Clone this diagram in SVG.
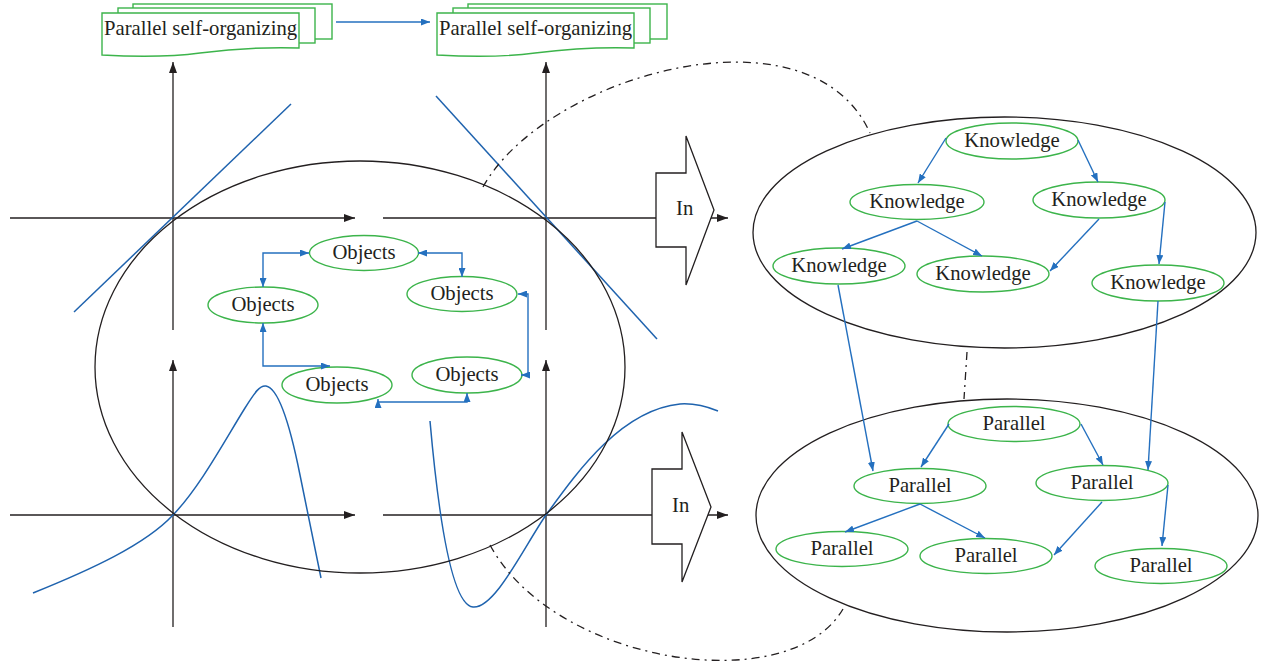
<svg xmlns="http://www.w3.org/2000/svg" width="1261" height="661" viewBox="0 0 1261 661">
<style>
.ax{stroke:#231f20;stroke-width:1.3;fill:none}
.bl{stroke:#1f63ae;stroke-width:1.5;fill:none}
.big{stroke:#231f20;stroke-width:1.3;fill:none}
.dd{stroke:#231f20;stroke-width:1.3;fill:none;stroke-dasharray:8 5 2 5}
.nd{stroke:#3cb44b;stroke-width:1.4;fill:#fff}
.doc{stroke:#3cb44b;stroke-width:1.4;fill:#fff}
.blk{stroke:#231f20;stroke-width:1.3;fill:#fff}
.cn{stroke:#2470bf;stroke-width:1.4;fill:none}
.t{font-family:"Liberation Serif","Times New Roman","DejaVu Serif",serif;font-size:20.7px;fill:#231f20}
.tm{text-anchor:middle}
</style>
<defs>
<marker id="ab" viewBox="0 0 9 7" refX="9" refY="3.5" markerWidth="9" markerHeight="7" markerUnits="userSpaceOnUse" orient="auto-start-reverse"><path d="M0,0 L9,3.5 L0,7 Z" fill="#2470bf"/></marker>
<marker id="ak" viewBox="0 0 11 8" refX="11" refY="4" markerWidth="11" markerHeight="8" markerUnits="userSpaceOnUse" orient="auto"><path d="M0,0 L11,4 L0,8 Z" fill="#231f20"/></marker>
</defs>
<rect width="1261" height="661" fill="#fff"/>

<g id="axes">
<line class="ax" x1="10" y1="218" x2="355" y2="218" marker-end="url(#ak)"/>
<line class="ax" x1="173" y1="330" x2="173" y2="62" marker-end="url(#ak)"/>
<line class="ax" x1="383" y1="218" x2="728" y2="218" marker-end="url(#ak)"/>
<line class="ax" x1="546" y1="330" x2="546" y2="62" marker-end="url(#ak)"/>
<line class="ax" x1="10" y1="515" x2="355" y2="515" marker-end="url(#ak)"/>
<line class="ax" x1="173" y1="627" x2="173" y2="360" marker-end="url(#ak)"/>
<line class="ax" x1="383" y1="515" x2="728" y2="515" marker-end="url(#ak)"/>
<line class="ax" x1="546" y1="627" x2="546" y2="360" marker-end="url(#ak)"/>
</g>

<g id="curves">
<line class="bl" x1="74" y1="312" x2="291" y2="104"/>
<line class="bl" x1="436" y1="96" x2="657" y2="339"/>
<path class="bl" d="M33,593 C90,570 145,545 173,515 C200,487 225,440 245,408 C255,392 260,385 266,386 C278,388 290,425 300,475 C308,515 315,550 321,578"/>
<path class="bl" d="M430,421 C437,500 450,605 473,607 C495,609 525,545 546,515 C575,475 620,410 680,404 C695,403 708,407 718,411"/>
</g>

<g id="big-ellipse">
<ellipse class="big" cx="360" cy="367" rx="265" ry="206"/>
</g>

<g id="dashdot">
<path class="dd" d="M483,187 C545,75 810,0 870,133"/>
<path class="dd" d="M490,545 C555,665 790,700 843,609"/>
<line class="dd" x1="967" y1="352" x2="964" y2="399"/>
</g>

<g id="in-top">
<polygon class="blk" points="656,173 686,173 686,136 714,210 686,285 686,247 656,247"/>
<text class="t" x="676" y="215">In</text>
</g>
<g id="in-bottom">
<polygon class="blk" points="652,469 682,469 682,432 711,507 682,582 682,544 652,544"/>
<text class="t" x="672" y="512">In</text>
</g>

<g id="doc-1">
<rect class="doc" x="133" y="4" width="199" height="35"/>
<rect class="doc" x="118" y="8" width="197" height="35"/>
<path class="doc" d="M102,55 C140,57 170,57 200,53 C240,48 270,47 299,48 V13 H102 Z"/>
<text class="t" x="104" y="35">Parallel self-organizing</text>
</g>
<g id="doc-2">
<rect class="doc" x="468" y="4" width="199" height="35"/>
<rect class="doc" x="453" y="8" width="197" height="35"/>
<path class="doc" d="M437,55 C475,57 505,57 535,53 C575,48 605,47 634,48 V13 H437 Z"/>
<text class="t" x="439" y="35">Parallel self-organizing</text>
</g>

<g id="knowledge-ellipse">
<ellipse class="big" cx="1004.5" cy="232.5" rx="251.5" ry="115.5"/>
</g>
<g id="parallel-ellipse">
<ellipse class="big" cx="1007" cy="515.5" rx="251" ry="116.5"/>
</g>

<g id="o1"><ellipse class="nd" cx="364" cy="253" rx="54.5" ry="17.5"/><text class="t tm" x="364" y="259">Objects</text></g>
<g id="o2"><ellipse class="nd" cx="263" cy="305" rx="55" ry="18"/><text class="t tm" x="263" y="311">Objects</text></g>
<g id="o3"><ellipse class="nd" cx="462" cy="294" rx="55" ry="17.5"/><text class="t tm" x="462" y="300">Objects</text></g>
<g id="o4"><ellipse class="nd" cx="337" cy="385" rx="55" ry="18"/><text class="t tm" x="337" y="391">Objects</text></g>
<g id="o5"><ellipse class="nd" cx="467" cy="375" rx="55" ry="18"/><text class="t tm" x="467" y="381">Objects</text></g>

<g id="k1"><ellipse class="nd" cx="1012" cy="141" rx="66" ry="18"/><text class="t tm" x="1012" y="147">Knowledge</text></g>
<g id="k2"><ellipse class="nd" cx="917" cy="202" rx="67" ry="17.5"/><text class="t tm" x="917" y="208">Knowledge</text></g>
<g id="k3"><ellipse class="nd" cx="1099" cy="200" rx="66" ry="18"/><text class="t tm" x="1099" y="206">Knowledge</text></g>
<g id="k4"><ellipse class="nd" cx="839" cy="266" rx="66" ry="18"/><text class="t tm" x="839" y="272">Knowledge</text></g>
<g id="k5"><ellipse class="nd" cx="983" cy="274" rx="66" ry="18"/><text class="t tm" x="983" y="280">Knowledge</text></g>
<g id="k6"><ellipse class="nd" cx="1158" cy="283" rx="66" ry="18"/><text class="t tm" x="1158" y="289">Knowledge</text></g>

<g id="p1"><ellipse class="nd" cx="1014" cy="424" rx="66" ry="17.5"/><text class="t tm" x="1014" y="430">Parallel</text></g>
<g id="p2"><ellipse class="nd" cx="920" cy="486" rx="66" ry="17.5"/><text class="t tm" x="920" y="492">Parallel</text></g>
<g id="p3"><ellipse class="nd" cx="1102" cy="483" rx="66" ry="17.5"/><text class="t tm" x="1102" y="489">Parallel</text></g>
<g id="p4"><ellipse class="nd" cx="842" cy="549" rx="66" ry="17.5"/><text class="t tm" x="842" y="555">Parallel</text></g>
<g id="p5"><ellipse class="nd" cx="986" cy="556" rx="66" ry="17.5"/><text class="t tm" x="986" y="562">Parallel</text></g>
<g id="p6"><ellipse class="nd" cx="1161" cy="566" rx="66" ry="17.5"/><text class="t tm" x="1161" y="572">Parallel</text></g>

<g id="connectors">
<line class="cn" x1="336" y1="22" x2="430" y2="22" marker-end="url(#ab)"/>
<path class="cn" d="M309,253 H263 V287" marker-start="url(#ab)" marker-end="url(#ab)"/>
<path class="cn" d="M418,253 H462 V277" marker-start="url(#ab)" marker-end="url(#ab)"/>
<path class="cn" d="M263,323 V366 H330" marker-start="url(#ab)" marker-end="url(#ab)"/>
<path class="cn" d="M518,294 H528 V375 H521" marker-start="url(#ab)" marker-end="url(#ab)"/>
<path class="cn" d="M467,393 V402 H378 V399" marker-start="url(#ab)" marker-end="url(#ab)"/>
<line class="cn" x1="946" y1="138" x2="918" y2="183" marker-end="url(#ab)"/>
<line class="cn" x1="1078" y1="140" x2="1098" y2="182" marker-end="url(#ab)"/>
<line class="cn" x1="917" y1="221" x2="842" y2="249" marker-end="url(#ab)"/>
<line class="cn" x1="917" y1="221" x2="982" y2="256" marker-end="url(#ab)"/>
<line class="cn" x1="1099" y1="219" x2="1050" y2="271" marker-end="url(#ab)"/>
<line class="cn" x1="1165" y1="202" x2="1159" y2="264" marker-end="url(#ab)"/>
<line class="cn" x1="838" y1="285" x2="873" y2="471" marker-end="url(#ab)"/>
<line class="cn" x1="1158" y1="301" x2="1148" y2="470" marker-end="url(#ab)"/>
<line class="cn" x1="949" y1="424" x2="921" y2="467" marker-end="url(#ab)"/>
<line class="cn" x1="1081" y1="424" x2="1103" y2="465" marker-end="url(#ab)"/>
<line class="cn" x1="920" y1="504" x2="845" y2="532" marker-end="url(#ab)"/>
<line class="cn" x1="920" y1="504" x2="985" y2="538" marker-end="url(#ab)"/>
<line class="cn" x1="1102" y1="502" x2="1054" y2="555" marker-end="url(#ab)"/>
<line class="cn" x1="1168" y1="485" x2="1162" y2="546" marker-end="url(#ab)"/>
</g>
</svg>
